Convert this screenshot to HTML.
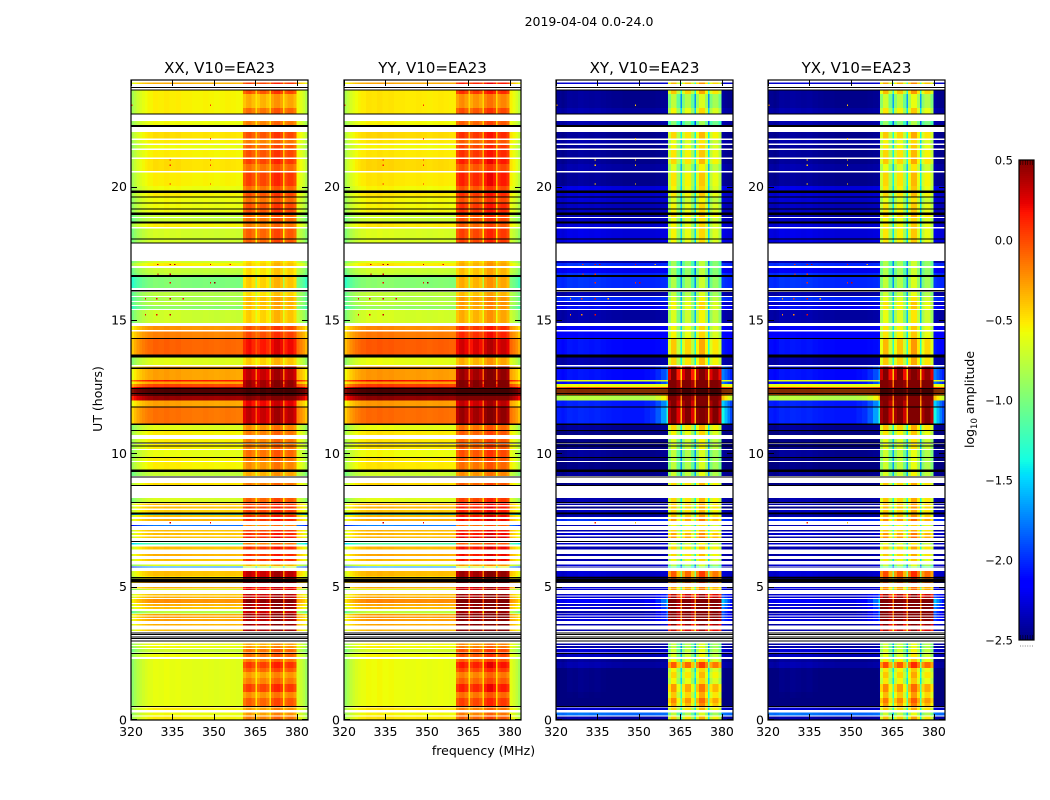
<!DOCTYPE html>
<html lang="en">
<head>
<meta charset="utf-8">
<title>2019-04-04 0.0-24.0</title>
<style>
html,body{margin:0;padding:0;background:#fff;}
svg{display:block;}
text{font-family:"DejaVu Sans","Liberation Sans",sans-serif;fill:#000;}
</style>
</head>
<body>
<svg id="figure" xmlns="http://www.w3.org/2000/svg" width="1050" height="800" viewBox="0 0 1050 800">
<text x="589" y="26" font-size="12.5" text-anchor="middle">2019-04-04 0.0-24.0</text>
<text transform="translate(102,399) rotate(-90)" font-size="12.5" text-anchor="middle">UT (hours)</text>
<text x="483.5" y="755" font-size="12.5" text-anchor="middle">frequency (MHz)</text>
<text transform="translate(974,399.5) rotate(-90)" font-size="12.5" text-anchor="middle">log<tspan font-size="8.5" dy="3">10</tspan><tspan dy="-3"> amplitude</tspan></text>
</svg>
<script>
// ---- UT extent of each recorded scan row, top of figure to bottom (hours)
const utTop = [
23.91,23.61,23.48,22.95,22.46,22.05,21.75,21.56,21.38,21.04,
20.85,20.53,20.03,19.84,19.61,19.39,18.98,18.83,18.68,18.43,
17.22,17.14,16.95,16.76,16.61,16.05,15.86,15.68,15.53,15.38,
14.78,14.57,14.33,13.61,13.26,12.75,12.69,12.60,12.49,12.17,
11.98,11.74,11.08,10.84,10.54,10.35,10.13,9.83,9.68,9.34,
8.89,8.33,8.12,8.01,7.88,7.76,7.69,7.54,7.31,7.13,
7.01,6.88,6.64,6.51,6.23,6.04,5.83,5.76,5.59,5.40,
5.21,4.99,4.91,4.73,4.63,4.54,4.35,4.24,4.09,3.98,
3.88,3.79,3.60,3.39,2.87,2.78,2.66,2.49,2.29,2.17,
1.95,1.80,1.58,1.35,1.05,0.83,0.64,0.47,0.28,0.13];
const utBottom = [
23.85,23.48,22.95,22.74,22.31,21.81,21.62,21.43,21.09,20.85,
20.59,20.03,19.84,19.61,19.39,18.98,18.87,18.68,18.49,17.89,
17.14,17.03,16.76,16.67,16.20,15.90,15.71,15.56,15.41,14.89,
14.63,14.33,13.65,13.31,12.75,12.69,12.60,12.49,12.17,11.98,
11.74,11.10,10.86,10.69,10.39,10.16,9.86,9.71,9.38,9.15,
8.80,8.18,8.06,7.93,7.78,7.69,7.61,7.46,7.28,7.07,
6.94,6.83,6.58,6.39,6.15,5.96,5.78,5.72,5.40,5.21,
5.14,4.93,4.88,4.67,4.58,4.39,4.28,4.16,3.99,3.92,
3.83,3.71,3.54,3.34,2.81,2.70,2.53,2.36,2.17,1.95,
1.80,1.58,1.35,1.05,0.83,0.64,0.51,0.38,0.17,0];

// ---- log10 amplitude per scan row
const parallelLow = [
-.35,-.55,-.55,-.55,-.6,-.5,-.55,-.6,-.55,-.5,
-.5,-.55,-.6,-.55,-.6,-.6,-.75,-.75,-.55,-.7,
-.7,-.55,-.75,-.8,-1,-.8,-.85,-.8,-.95,-.72,
-.25,-.2,-.1,-.65,-.3,.15,-.3,0,.42,.42,
-.3,-.15,-.65,-.55,-.55,-.55,-.62,-.55,-.55,-.75,
-.5,-.68,-.4,-.4,-.45,-1.3,-.4,-.35,-1.8,-.4,
-.4,-.4,-1.2,-.4,-.35,-.4,-.65,-1.7,-.4,-.5,
-.25,-.35,-.7,-.4,-.35,-.25,-.35,-.4,-.8,-.3,
-.3,-.3,-.35,-.4,-.6,-.6,-.72,-.6,-.63,-.63,
-.63,-.63,-.63,-.63,-.63,-.63,-.63,-.55,-.6,-.55];
const parallelHigh = [
0,-.05,-.35,-.15,-.2,-.05,-.2,-.1,-.05,0,
-.15,0,-.15,-.05,-.15,-.05,-.15,-.15,-.2,-.1,
-.5,-.45,-.5,-.5,-.45,-.5,-.4,-.4,-.4,-.45,
-.05,-.03,.15,-.45,.3,.4,.4,.4,.5,.5,
.2,.3,-.25,-.2,-.2,-.2,-.15,-.2,-.25,-.35,
-.2,-.1,0,0,0,-.3,.05,.05,-.2,0,
.05,.1,-.2,.05,.05,.05,-.4,-.8,.3,.3,
.3,.2,.2,.3,.3,.45,.35,.4,.3,.4,
.4,.35,.4,.4,-.35,-.3,-.15,-.15,-.2,.02,
-.1,-.3,-.2,0,-.25,-.1,-.1,-.3,-.3,-.2];
const crossLow = [
-2.2,-2.35,-2.35,-2.3,-2.3,-2.35,-2.3,-2.35,-2.35,-2.35,
-2.3,-2.35,-2.15,-2.2,-2.2,-2.25,-2.3,-2.25,-2.2,-2.15,
-2.3,-1.9,-2.1,-1.9,-1.9,-2.3,-1.9,-2.2,-2,-2.3,
-2.1,-2.05,-2,-2.3,-2,-.55,-2,-.5,.05,-.7,
-1.95,-1.95,-2.35,-2.4,-2.4,-2.4,-2.35,-2.4,-2.4,-2.35,
-2.4,-2.3,-2.3,-2.4,-2.25,-2.1,-2.3,-1.9,-2.3,-2.3,
-2.2,-2.3,-2.2,-2.3,-2.3,-2.3,-2.2,-2.3,-2.2,-2.35,
-2.4,-2.2,-2.2,-2.2,-2.2,-2.1,-2.2,-2.2,-2.3,-2.2,
-2.2,-2.2,-2.3,-2.3,-2.3,-2.3,-2.2,-2.25,-2.35,-2.3,
-2.4,-2.4,-2.4,-2.4,-2.42,-2.45,-2.45,-2.2,-1.7,-2.3];
const crossHigh = [
-.4,-.45,-.8,-.6,-1,-.5,-.65,-.6,-.55,-.5,
-.7,-.55,-.6,-.55,-.7,-.6,-.5,-.65,-.6,-.6,
-.9,-.9,-.9,-.9,-.85,-.8,-.7,-.6,-.6,-.7,
-.6,-.6,-.45,-.5,.45,.7,.7,.7,.7,.7,
.6,.55,-.5,-.6,-.7,-.7,-.8,-.8,-.8,-.75,
-.5,-.5,-.45,-.45,-.5,-.6,-.4,-.3,-.6,-.5,
-.35,-.3,-.7,-.5,-.5,-.6,-.8,-1.1,-.1,-.1,
-.1,-.3,-.3,.3,.4,.7,.65,.65,.65,.65,
.65,.6,.45,.3,-.8,-.8,-.75,-.7,-.6,-.1,
-.6,-.5,-.6,-.3,-.45,-.25,-.35,-.5,-.8,-.5];
const crossFlare = [
0,0,0,0,0,0,0,0,0,0,
0,0,0,0,0,0,0,0,0,0,
0,0,0,0,0,0,0,0,0,0,
0,0,0,0,.5,0,.5,0,0,.6,
.8,1,0,0,0,0,0,0,0,0,
0,0,0,0,0,0,0,0,0,0,
0,0,0,0,0,0,0,0,0,0,
0,0,0,.5,.6,1,1,.8,.8,.6,
.6,.5,.2,0,0,0,0,0,0,0,
0,0,0,0,0,0,0,0,0,0];

// ---- frequency channels: edges in MHz and spectral role (0 low band, 1 bright sub-band, 2 sub-band gap)
const channelEdges = [320,321,322,323,324,325,326,328,330,332,334,336,338,340,342,344,346,348,350,352,354,356,358,360,360.5,
361.5,362.5,363.5,365,365.6,366.7,367.8,368.9,370,370.6,371.7,372.8,373.9,375,375.5,376.6,377.7,378.8,379.8,381,382,383,384];
const channelRole = [0,0,0,0,0,0,0,0,0,0,0,0,0,0,0,0,0,0,0,0,0,0,0,0,
1,1,1,1,2,1,1,1,1,2,1,1,1,1,2,1,1,1,1,0,0,0,0];
const parallelSpectrum = [-.3,-.22,-.15,-.1,-.06,-.03,0,.03,.02,.04,.02,.03,.01,.01,0,0,.01,0,-.01,0,.01,0,-.01,0,
-.05,.03,.05,-.03,0,-.07,.01,.02,-.05,0,.05,.12,.13,.06,0,0,.06,.06,-.02,-.02,-.08,-.15,-.25];
const crossSpectrum = [.02,.02,0,.02,.05,.05,.04,.06,.05,.04,.05,.03,.02,.01,.01,0,0,0,0,0,0,.01,.02,.05,
-.2,.05,.05,-.3,0,-.2,0,0,-.3,0,-.1,.15,.15,-.1,0,-.2,-.05,-.05,-.25,.05,.02,0,0];
const flareSpectrum = [0,0,0,0,0,0,0,0,0,0,0,0,0,0,0,0,0,0,0,.05,.1,.25,.5,.9,
0,0,0,0,0,0,0,0,0,0,0,0,0,0,0,0,0,0,0,.8,.6,.4,.2];

// ---- per-product offsets, thin black separator lines, narrow RFI spikes
const productNames = ['XX, V10=EA23','YY, V10=EA23','XY, V10=EA23','YX, V10=EA23'];
const productLowShift = [0,.03,-.12,-.12];
const productHighShift = [0,.1,0,.05];
const blackLineUT = [23.72,23.62,22.73,22.28,19.81,19.62,19.38,19.16,18.98,18.65,18.03,17.88,16.65,16.1,14.31,13.65,13.19,12.44,12.38,12.31,12.24,12.19,11.73,11.09,10.85,10.38,10.28,9.85,9.35,9.12,8.79,8.15,7.75,6.7,5.34,5.22,3.27,3.2,3.12,3.05,2.97,2.5,.5];
const blackLineHours = [.04,.04,.04,.07,.08,.04,.04,.04,.1,.07,.04,.04,.06,.06,.04,.1,.04,.03,.03,.03,.03,.03,.04,.04,.04,.04,.04,.04,.1,.04,.04,.04,.07,.04,.05,.12,.04,.04,.04,.04,.04,.04,.04];
const spikeUT = [23.05,23.05,21.8,21,21,20.8,20.8,20.1,20.1,17.08,17.08,17.08,17.08,17.08,16.72,16.72,16.4,16.4,16.4,15.8,15.8,15.8,15.8,15.2,15.2,15.2,7.4,7.4];
const spikeMHz = [320,348.5,348.5,334,348.5,334,348.5,334,348.5,329.4,334,335.5,348.5,355.7,329.5,334,334,348.5,350,325,329,334,338.7,325,329,334,334,348.5];
const spikeParallel = [.1,.1,.1,.1,.1,.1,.1,.1,.1,.3,.3,.4,.3,.2,.3,.3,.2,.2,.45,.2,.2,.3,.2,.2,.2,.3,.3,.2];
const spikeCross = [-.3,-.4,-.4,-.4,-.4,-.4,-.4,-.4,-.4,.1,.2,.3,.2,-.3,.1,.1,.1,.1,.3,-.2,.1,.2,-.3,-.2,-.2,.2,.1,-.4];

// ---- axis tick values
const freqTicks = [320,335,350,365,380];
const utTicks = [0,5,10,15,20];
const colorbarTicks = [-2.5,-2.0,-1.5,-1.0,-0.5,0.0,0.5];

const svg = document.getElementById('figure');
const NS = 'http://www.w3.org/2000/svg';
const panelLeft = [131,344,556,768];
const panelWidth = 177, panelTop = 80, panelBottom = 720;
const xScale = (left,mhz) => left + (mhz-320)*panelWidth/64;
const yScale = ut => panelBottom - ut*(panelBottom-panelTop)/24;

function jetChannel(stops,t){
  for(let i=1;i<stops.length;i++){
    if(t<=stops[i][0]){
      const a=stops[i-1], b=stops[i];
      return a[1]+(b[1]-a[1])*(t-a[0])/(b[0]-a[0]);
    }
  }
  return stops[stops.length-1][1];
}
function jet(level){
  const t=Math.max(0,Math.min(1,(level+2.5)/3));
  const r=jetChannel([[0,0],[.35,0],[.66,1],[.89,1],[1,.5]],t);
  const g=jetChannel([[0,0],[.125,0],[.375,1],[.64,1],[.91,0],[1,0]],t);
  const b=jetChannel([[0,.5],[.11,1],[.34,1],[.65,0],[1,0]],t);
  return 'rgb('+Math.round(r*255)+','+Math.round(g*255)+','+Math.round(b*255)+')';
}
function make(tag,parent,attrs){
  const el=document.createElementNS(NS,tag);
  for(const k in attrs){el.setAttribute(k,attrs[k]);}
  parent.appendChild(el);
  return el;
}
function cellLevel(p,r,c){
  const isCross=p>=2;
  const low=(isCross?crossLow[r]:parallelLow[r])+productLowShift[p];
  const high=(isCross?crossHigh[r]:parallelHigh[r])+productHighShift[p];
  const spectrum=isCross?crossSpectrum[c]:parallelSpectrum[c];
  const role=channelRole[c];
  if(role===1){return high+spectrum;}
  if(role===2){return Math.max(low*.75+high*.25,high-.9);}
  return low+spectrum+(isCross?crossFlare[r]*flareSpectrum[c]*.8:0);
}

productNames.forEach(function(name,p){
  const left=panelLeft[p];
  const group=make('g',svg,{});
  
  

  const cells=make('g',group,{'shape-rendering':'crispEdges'});
  
  
  utTop.forEach(function(top,r){
    const y0=yScale(top), y1=yScale(utBottom[r]);
    channelRole.forEach(function(role,c){
      const x0=xScale(left,channelEdges[c]), x1=xScale(left,channelEdges[c+1]);
      const cell=make('rect',cells,{x:x0.toFixed(2),y:y0.toFixed(2),width:(x1-x0).toFixed(2),height:(y1-y0).toFixed(2),fill:jet(cellLevel(p,r,c))});
      
      
    });
  });

  spikeUT.forEach(function(ut,i){
    const level=p>=2?spikeCross[i]:spikeParallel[i];
    const spike=make('rect',cells,{x:xScale(left,spikeMHz[i]).toFixed(2),y:yScale(ut+.025).toFixed(2),width:(panelWidth/64*.5).toFixed(2),height:(yScale(ut-.025)-yScale(ut+.025)).toFixed(2),fill:jet(level)});
    
    
  });

  const lines=make('g',group,{'shape-rendering':'crispEdges'});
  
  
  blackLineUT.forEach(function(ut,i){
    const h=blackLineHours[i];
    const line=make('rect',lines,{x:left,y:yScale(ut+h/2).toFixed(2),width:panelWidth,height:Math.max(1,h*640/24).toFixed(2),fill:'#000'});
    
    
  });

  const frame=make('rect',group,{x:left,y:panelTop,width:panelWidth,height:panelBottom-panelTop,fill:'none',stroke:'#000','stroke-width':1.2});
  
  

  const title=make('text',group,{x:left+panelWidth/2,y:73,'font-size':15,'text-anchor':'middle'});
  title.textContent=name;
  
  

  freqTicks.forEach(function(f){
    const x=Math.round(xScale(left,f))+.5;
    const tb=make('line',group,{x1:x,x2:x,y1:panelBottom,y2:panelBottom-6,stroke:'#000'});
    
    
    const tt=make('line',group,{x1:x,x2:x,y1:panelTop,y2:panelTop+6,stroke:'#000'});
    
    
    const label=make('text',group,{x:xScale(left,f),y:736,'font-size':12.5,'text-anchor':'middle'});
    label.textContent=String(f);
    
    
  });
  utTicks.forEach(function(u){
    const y=Math.round(yScale(u))+(u===0?-.5:.5);
    const tl=make('line',group,{x1:left,x2:left+6,y1:y,y2:y,stroke:'#000'});
    
    
    const tr=make('line',group,{x1:left+panelWidth,x2:left+panelWidth-6,y1:y,y2:y,stroke:'#000'});
    
    
    const label=make('text',group,{x:left-4,y:yScale(u)+4.5,'font-size':12.5,'text-anchor':'end'});
    label.textContent=String(u);
    
    
  });
});

// ---- colorbar
const cbLeft=1019, cbRight=1034, cbTop=160, cbBottom=640;
const cbScale=v=>cbBottom-(v+2.5)*(cbBottom-cbTop)/3;
const colorbar=make('g',svg,{});


const cbSteps=make('g',colorbar,{'shape-rendering':'crispEdges'});


for(let y=cbTop;y<cbBottom;y+=2){
  const mid=-2.5+(cbBottom-y-1)*3/(cbBottom-cbTop);
  const step=make('rect',cbSteps,{x:cbLeft,y:y,width:cbRight-cbLeft,height:2,fill:jet(mid)});
  
  
}
const cbFrame=make('rect',colorbar,{x:cbLeft,y:cbTop,width:cbRight-cbLeft,height:cbBottom-cbTop,fill:'none',stroke:'#000','stroke-width':1.2});


for(let i=0;i<6;i++){
  const x=cbLeft+1.5+i*2.4;
  const topTick=make('line',colorbar,{x1:x,x2:x,y1:cbTop,y2:cbTop+5,stroke:'#000','stroke-width':.5});
  
  
  const botTick=make('line',colorbar,{x1:x,x2:x,y1:cbBottom,y2:cbBottom-5,stroke:'#000','stroke-width':.5});
  
  
  const dot=make('rect',colorbar,{x:x-.5,y:645.5,width:1,height:1,fill:'#888'});
  
  
}
colorbarTicks.forEach(function(v){
  const label=make('text',colorbar,{x:1013,y:cbScale(v)+4.5,'font-size':11.5,'text-anchor':'end'});
  label.textContent=v.toFixed(1).replace('-','\u2212');
  
  
});
</script>
</body>
</html>
